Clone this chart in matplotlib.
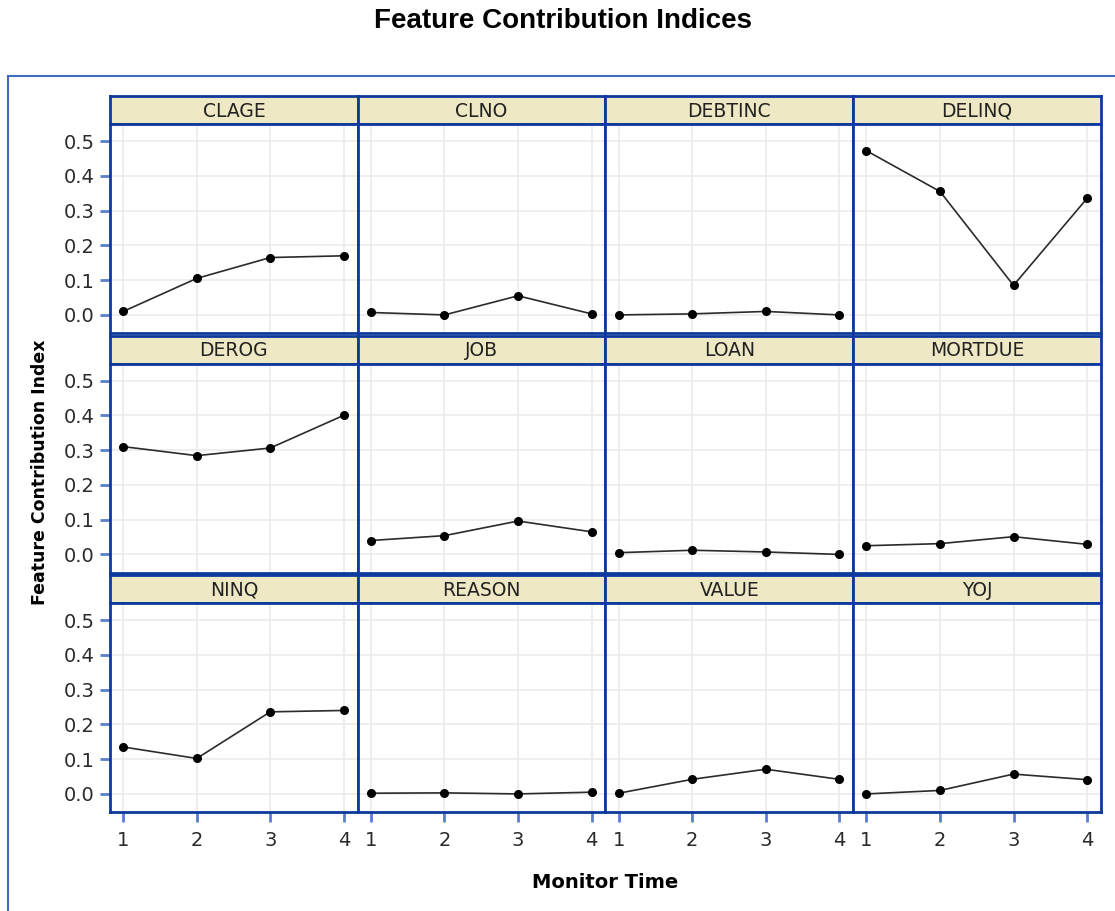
import numpy as np
import matplotlib.pyplot as plt
from matplotlib.patches import Rectangle

plt.rcParams['font.family'] = ['DejaVu Sans']

# данные
features = ['CLAGE', 'CLNO', 'DEBTINC', 'DELINQ',
            'DEROG', 'JOB', 'LOAN', 'MORTDUE',
            'NINQ', 'REASON', 'VALUE', 'YOJ']
monitor_time = [1, 2, 3, 4]

clage = [0.010, 0.105, 0.165, 0.170]
clno = [0.007, 0.000, 0.055, 0.003]
debtinc = [0.000, 0.003, 0.010, 0.000]
delinq = [0.472, 0.355, 0.085, 0.335]
derog = [0.310, 0.284, 0.306, 0.400]
job = [0.040, 0.054, 0.096, 0.065]
loan = [0.005, 0.012, 0.007, 0.000]
mortdue = [0.025, 0.031, 0.051, 0.029]
ninq = [0.135, 0.102, 0.236, 0.240]
reason = [0.002, 0.003, 0.000, 0.005]
value = [0.002, 0.042, 0.071, 0.042]
yoj = [0.000, 0.010, 0.057, 0.041]

series = [clage, clno, debtinc, delinq, derog, job, loan, mortdue,
          ninq, reason, value, yoj]
yticks = [0.0, 0.1, 0.2, 0.3, 0.4, 0.5]

W, H = 1115, 911
fig = plt.figure(figsize=(W / 100, H / 100), dpi=100)

def box(x0, y0, w, h):
    # пиксели -> координаты фигуры
    return [x0 / W, 1 - (y0 + h) / H, w / W, h / H]

panel_blue = '#0d3a9c'
tick_blue = '#5a7fcf'
strip_col = '#eee8c5'

# внешняя рамка
fig.patches.append(Rectangle((8 / W, -0.01), 1.0, 1 - 76 / H + 0.01,
                             transform=fig.transFigure, fill=False,
                             edgecolor='#3f6cc0', linewidth=1.5))

left0, col_w = 110, 247.75
top0, row_pitch = 96, 239.5
strip_h, plot_h = 28, 209

for i, (name, vals) in enumerate(zip(features, series)):
    r, c = divmod(i, 4)
    x0 = left0 + c * col_w
    y0 = top0 + r * row_pitch

    # заголовок панели
    sax = fig.add_axes(box(x0, y0, col_w, strip_h))
    sax.set_facecolor(strip_col)
    sax.set_xticks([])
    sax.set_yticks([])
    for s in sax.spines.values():
        s.set_color(panel_blue)
        s.set_linewidth(2)
    sax.text(0.5, 0.45, name, ha='center', va='center', fontsize=13.5,
             color='#222222', transform=sax.transAxes)

    ax = fig.add_axes(box(x0, y0 + strip_h, col_w, plot_h))
    ax.plot(monitor_time, vals, color='#2b2b2b', linewidth=1.2,
            marker='o', markersize=5.5, markerfacecolor='black',
            markeredgecolor='black')
    ax.set_xlim(0.82, 4.19)
    ax.set_ylim(-0.052, 0.549)
    ax.set_xticks(monitor_time)
    ax.set_yticks(yticks)
    ax.grid(True, color='#ebebeb', linewidth=1.2)
    ax.set_axisbelow(True)
    for s in ax.spines.values():
        s.set_color(panel_blue)
        s.set_linewidth(2)
    ax.tick_params(direction='out', length=7.5, width=2, color=tick_blue,
                   labelsize=14, labelcolor='#2a2a2a', pad=3.5)
    if c != 0:
        ax.tick_params(axis='y', left=False, labelleft=False)
    else:
        ax.set_yticklabels(['%.1f' % v for v in yticks])
    if r != 2:
        ax.tick_params(axis='x', bottom=False, labelbottom=False)
    else:
        ax.tick_params(axis='x', pad=6)

fig.text(563 / W, 1 - 21 / H, 'Feature Contribution Indices', ha='center',
         va='center', fontsize=20, fontweight='bold',
         family=['Liberation Sans', 'DejaVu Sans'])
fig.text(40 / W, 1 - 472 / H, 'Feature Contribution Index', ha='center',
         va='center', rotation=90, fontsize=12.5, fontweight='bold')
fig.text(605 / W, 1 - 882 / H, 'Monitor Time', ha='center', va='center',
         fontsize=14, fontweight='bold')

fig.savefig('out.png', dpi=100)
